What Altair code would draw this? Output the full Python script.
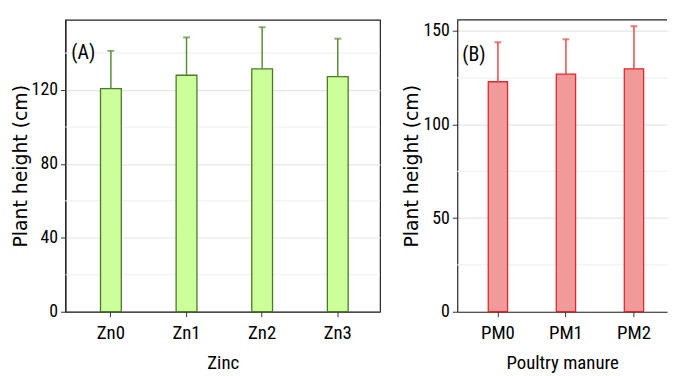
import altair as alt
import pandas as pd

# ---- data ----
zinc_levels = ["Zn0", "Zn1", "Zn2", "Zn3"]
zinc_means = [120.7, 128.0, 131.4, 127.3]
zinc_errors = [20.5, 20.5, 22.6, 20.5]

pm_levels = ["PM0", "PM1", "PM2"]
pm_means = [122.9, 127.0, 129.8]
pm_errors = [21.1, 18.6, 22.8]

zinc_major = [0, 40, 80, 120]
zinc_minor = [20, 60, 100, 140]
pm_major = [0, 50, 100, 150]
pm_minor = [25, 75, 125]

NARROW = ("'Roboto Condensed', 'Noto Sans ExtraCondensed', 'Noto Sans Condensed', "
          "'DejaVu Sans Condensed', sans-serif")
YTITLE = "Plant height (cm)"


def panel(levels, means, errors, ymax, major, minor, fill, stroke, errcolor,
          xtitle, label, label_x, label_y, width, pi, po, align, border):
    df = pd.DataFrame({"cat": levels, "mean": means, "err": errors})
    base = alt.Chart(df).transform_calculate(upper="datum.mean + datum.err")
    xscale = alt.Scale(paddingInner=pi, paddingOuter=po, align=align)
    xaxis = alt.Axis(title=xtitle, labelAngle=0, labelFont=NARROW, labelFontSize=19,
                     labelColor="black", labelPadding=7, tickSize=5, tickColor="#333",
                     domainColor="#222", domainWidth=1.2, titleFont=NARROW,
                     titleFontSize=19, titleFontWeight="normal", titleColor="black",
                     titlePadding=11, grid=False)
    yscale = alt.Scale(domain=[0, ymax], nice=False, zero=True)
    yaxis = alt.Axis(title=YTITLE, values=major, labelFont=NARROW, labelFontSize=18,
                     labelColor="black", labelPadding=3, tickSize=5, tickColor="#333",
                     domainColor="#222", domainWidth=1.2, titleFont="DejaVu Sans",
                     titleFontSize=19, titleFontWeight="normal", titleColor="black",
                     titlePadding=1, grid=True, gridColor="#e6e6e6", gridWidth=1.2)
    x = alt.X("cat:N", sort=levels, scale=xscale, axis=xaxis)
    bars = base.mark_bar(fill=fill, stroke=stroke, strokeWidth=1.3).encode(
        x=x, y=alt.Y("mean:Q", scale=yscale, axis=yaxis))
    rules = base.mark_rule(color=errcolor, strokeWidth=1.5).encode(
        x=alt.X("cat:N", sort=levels, title=xtitle),
        y=alt.Y("mean:Q", title=YTITLE), y2="upper:Q")
    caps = base.mark_tick(color=errcolor, size=7, thickness=2).encode(
        x=alt.X("cat:N", sort=levels, title=xtitle),
        y=alt.Y("upper:Q", title=YTITLE))
    grid_minor = alt.Chart(pd.DataFrame({"v": minor})).mark_rule(
        color="#f1f1f1", strokeWidth=1.2).encode(y=alt.Y("v:Q", title=YTITLE))
    txt = alt.Chart(pd.DataFrame({"t": [label]})).mark_text(
        font=NARROW, fontSize=20, color="black", align="left", baseline="middle").encode(
        x=alt.value(label_x), y=alt.value(label_y), text="t:N")
    layers = [grid_minor, bars, rules, caps, txt]
    if border:
        view = alt.ViewBackground(stroke="#222", strokeWidth=1.2)
    else:
        view = alt.ViewBackground(stroke="transparent")
        top = alt.Chart(pd.DataFrame({"t": [0]})).mark_rule(
            color="#222", strokeWidth=1.2).encode(y=alt.value(0))
        layers.append(top)
    return alt.layer(*layers).properties(width=width, height=295, view=view)


a = panel(zinc_levels, zinc_means, zinc_errors, 158, zinc_major, zinc_minor,
          "#ccff99", "#4a7a2a", "#5b8c3a", "Zinc", "(A)", 6, 34,
          318, 0.725, 0.443, 0.524, True)
b = panel(pm_levels, pm_means, pm_errors, 156, pm_major, pm_minor,
          "#f09a9a", "#e3262b", "#e94a4a", "Poultry manure", "(B)", 5, 36,
          212, 0.716, 0.40, 0.57, False)

chart = alt.hconcat(a, b, spacing=20).properties(
    padding={"left": 2, "top": 8, "right": 0, "bottom": 0}
).configure_view(stroke="transparent")

chart.save("out.html", embed_options={"renderer": "svg", "actions": False})
